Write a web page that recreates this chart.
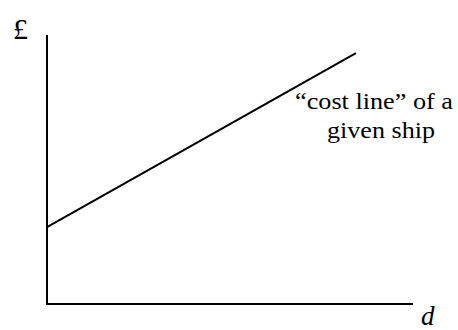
<!DOCTYPE html>
<html>
<head>
<meta charset="utf-8">
<script src="https://cdn.jsdelivr.net/npm/d3@7"></script>
<style>
  body { margin: 0; background: #fff; }
</style>
</head>
<body>
<svg></svg>
<script>
'use strict'

const width = 458,
  height = 330

const serif = "'Liberation Serif', 'Times New Roman', serif"

// cost line of a given ship: distance d vs cost (arbitrary units)
const costD = [0, 84.4]
const costValue = [28.6, 93.3]
const axisLabels = ['£', 'd']
const lineLabel = ['\u201Ccost line\u201D of a', 'given ship']

const svg = d3
  .select('svg')
  .attr('width', width)
  .attr('height', height)

const xScale = d3
  .scaleLinear()
  .domain([0, 100])
  .range([47, 413])

const yScale = d3
  .scaleLinear()
  .domain([0, 100])
  .range([304, 35])

// axes drawn as plain lines (no ticks)
svg
  .append('path')
  .attr('fill', 'none')
  .attr('stroke', '#000')
  .attr('stroke-width', 2)
  .attr(
    'd',
    'M' + xScale(0) + ',' + yScale(100) +
      'V' + yScale(0) +
      'H' + xScale(100)
  )

const line = d3
  .line()
  .x(d => xScale(d[0]))
  .y(d => yScale(d[1]))

svg
  .append('path')
  .datum(costD.map((d, i) => [d, costValue[i]]))
  .attr('fill', 'none')
  .attr('stroke', '#000')
  .attr('stroke-width', 2)
  .attr('d', line)

svg
  .append('text')
  .attr('x', 13)
  .attr('y', 39)
  .attr('font-family', serif)
  .attr('font-size', 30)
  .text(axisLabels[0])

svg
  .append('text')
  .attr('x', 421)
  .attr('y', 325)
  .attr('font-family', serif)
  .attr('font-size', 27)
  .attr('font-style', 'italic')
  .text(axisLabels[1])

svg
  .selectAll('.line-label')
  .data(lineLabel)
  .enter()
  .append('text')
  .attr('class', 'line-label')
  .attr('font-family', serif)
  .attr('font-size', 24)
  .attr('x', (d, i) => (i === 0 ? 295 : 327))
  .attr('y', (d, i) => 109 + i * 29)
  .attr('textLength', (d, i) => (i === 0 ? 158 : 108))
  .attr('lengthAdjust', 'spacingAndGlyphs')
  .text(d => d)
</script>
</body>
</html>
